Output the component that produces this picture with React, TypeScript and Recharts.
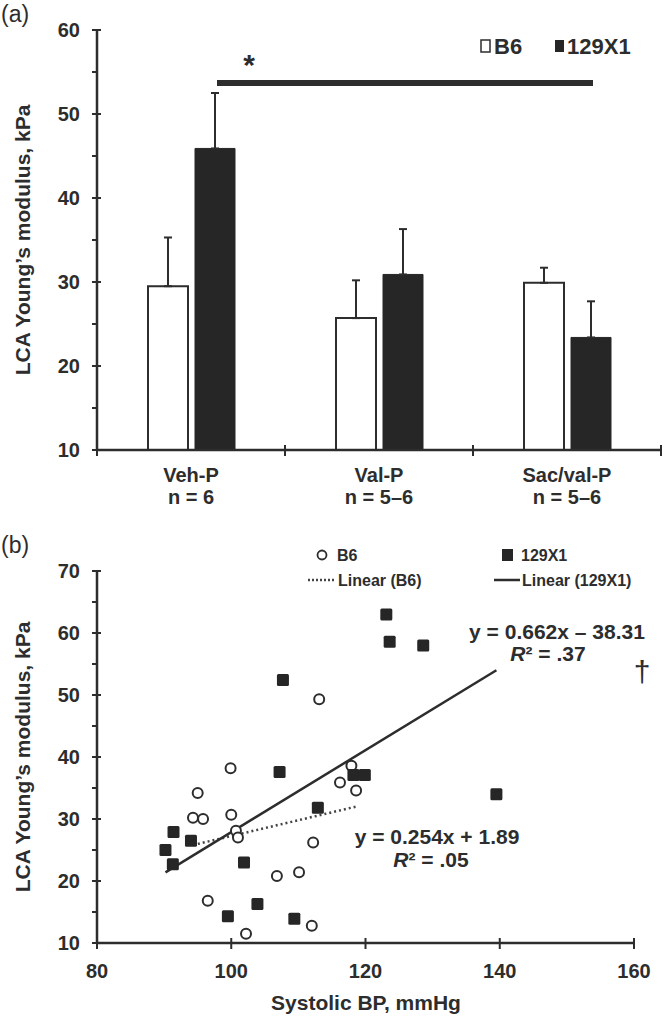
import React from "react";
import {
  BarChart,
  Bar,
  ErrorBar,
  ReferenceLine,
  ScatterChart,
  Scatter,
  XAxis,
  YAxis
} from "recharts";

const FONT = '"Liberation Sans", Arial, Helvetica, sans-serif';
const INK = "#2d2d2d";
const BAR_DARK = "#262626";

// (a) LCA modulus by treatment, mean + SD (upper whisker only)
const groups = ["Veh-P", "Val-P", "Sac/val-P"];
const groupN = ["n = 6", "n = 5\u20136", "n = 5\u20136"];
const b6Mean = [29.5, 25.7, 29.9];
const b6Sd = [5.8, 4.5, 1.8];
const x129Mean = [45.9, 30.9, 23.4];
const x129Sd = [6.6, 5.4, 4.3];
const sigLevel = 53.7;
const ticksA = [10, 15, 20, 25, 30, 35, 40, 45, 50, 55, 60];

// (b) modulus vs systolic BP
const b6Bp = [113.1, 99.9, 95.0, 94.3, 95.8, 100.0, 100.7, 101.0, 117.9, 116.2, 118.6, 112.2, 106.8, 110.1, 96.5, 102.2, 112.0];
const b6Mod = [49.3, 38.2, 34.2, 30.2, 30.0, 30.7, 28.1, 27.0, 38.6, 35.9, 34.6, 26.2, 20.8, 21.4, 16.8, 11.5, 12.8];
const x129Bp = [107.7, 107.2, 112.9, 91.4, 94.0, 90.2, 91.3, 101.9, 103.9, 99.5, 109.4, 118.2, 119.9, 123.1, 123.6, 128.6, 139.5];
const x129Mod = [52.4, 37.6, 31.8, 27.9, 26.5, 25.0, 22.7, 23.0, 16.3, 14.3, 13.9, 37.1, 37.1, 63.0, 58.6, 58.0, 34.0];
const fitB6Bp = [94.3, 118.6];
const fitB6Mod = [25.8, 32.0];
const fit129Bp = [90.2, 139.5];
const fit129Mod = [21.4, 54.0];
const ticksBx = [80, 100, 120, 140, 160];
const ticksBy = [10, 15, 20, 25, 30, 35, 40, 45, 50, 55, 60, 65, 70];

const barRows = groups.map((group, i) => ({
  group,
  b6: b6Mean[i],
  b6Err: [0, b6Sd[i]],
  x129: x129Mean[i],
  x129Err: [0, x129Sd[i]]
}));

const b6Rows = b6Bp.map((bp, i) => ({ bp, mod: b6Mod[i] }));
const x129Rows = x129Bp.map((bp, i) => ({ bp, mod: x129Mod[i] }));
const fitB6Rows = fitB6Bp.map((bp, i) => ({ bp, mod: fitB6Mod[i] }));
const fit129Rows = fit129Bp.map((bp, i) => ({ bp, mod: fit129Mod[i] }));

const textStyle = { fontFamily: FONT, fontWeight: 700, fill: INK } as const;

function ValueTick(props: any) {
  const { x, y, payload } = props;
  const major = payload.value % 10 === 0;
  return (
    <g>
      <line x1={x - 5} x2={major ? x + 4 : x} y1={y} y2={y} stroke={INK} strokeWidth={2} />
      {major && (
        <text x={x - 17} y={y + 7} textAnchor="end" fontSize={20} {...textStyle}>
          {payload.value}
        </text>
      )}
    </g>
  );
}

function GroupTick(props: any) {
  const { x, y, payload } = props;
  const half = typeof payload.offset === "number" && payload.offset > 0 ? payload.offset : 94;
  const i = groups.indexOf(payload.value);
  return (
    <g>
      <line x1={x - half} x2={x - half} y1={y - 5} y2={y + 6} stroke={INK} strokeWidth={2} />
      {i === groups.length - 1 && (
        <line x1={x + half} x2={x + half} y1={y - 5} y2={y + 6} stroke={INK} strokeWidth={2} />
      )}
      <text x={x} y={y + 32} textAnchor="middle" fontSize={20} {...textStyle}>
        {payload.value}
      </text>
      <text x={x} y={y + 54} textAnchor="middle" fontSize={20} {...textStyle}>
        {groupN[i]}
      </text>
    </g>
  );
}

function BpTick(props: any) {
  const { x, y, payload } = props;
  return (
    <g>
      <line x1={x} x2={x} y1={y - 5} y2={y + 6} stroke={INK} strokeWidth={2} />
      <text x={x} y={y + 35} textAnchor="middle" fontSize={20} {...textStyle}>
        {payload.value}
      </text>
    </g>
  );
}

// significance bar runs between the 129X1 bars, so shift off the band centre
function SigBar(props: any) {
  const shift = 26;
  return (
    <g>
      <line
        x1={props.x1 + shift}
        x2={props.x2 + shift}
        y1={props.y1}
        y2={props.y2}
        stroke={INK}
        strokeWidth={6}
      />
      <text x={props.x1 + shift + 32} y={props.y1 - 8} textAnchor="middle" fontSize={30} {...textStyle}>
        *
      </text>
    </g>
  );
}

const openCircle = (p: any) => (
  <circle cx={p.cx} cy={p.cy} r={5} fill="#fff" stroke={INK} strokeWidth={2} />
);
const filledSquare = (p: any) => (
  <rect x={p.cx - 6} y={p.cy - 6} width={12} height={12} rx={1.5} fill={BAR_DARK} />
);
const noDot = () => <g />;

export default function App() {
  return (
    <div style={{ position: "absolute", left: 0, top: 0, width: 666, height: 1019, background: "#fff" }}>
      <div style={{ position: "absolute", left: 0, top: 0 }}>
        <BarChart
          width={666}
          height={520}
          data={barRows}
          margin={{ top: 30, right: 5, bottom: 0, left: 0 }}
          barSize={40}
          barGap={7}
        >
          <XAxis
            dataKey="group"
            height={70}
            interval={0}
            tickLine={false}
            tickSize={0}
            tickMargin={0}
            axisLine={{ stroke: INK, strokeWidth: 2.5 }}
            tick={<GroupTick />}
          />
          <YAxis
            type="number"
            domain={[10, 60]}
            ticks={ticksA}
            interval={0}
            width={97}
            tickLine={false}
            tickSize={0}
            tickMargin={0}
            axisLine={{ stroke: INK, strokeWidth: 2.5 }}
            tick={<ValueTick />}
          />
          <Bar dataKey="b6" fill="#fff" stroke={INK} strokeWidth={2} isAnimationActive={false}>
            <ErrorBar dataKey="b6Err" direction="y" width={4} stroke={INK} strokeWidth={2} />
          </Bar>
          <Bar dataKey="x129" fill={BAR_DARK} stroke={BAR_DARK} strokeWidth={1} isAnimationActive={false}>
            <ErrorBar dataKey="x129Err" direction="y" width={4} stroke={INK} strokeWidth={2} />
          </Bar>
          <ReferenceLine
            segment={[
              { x: groups[0], y: sigLevel },
              { x: groups[2], y: sigLevel }
            ]}
            ifOverflow="visible"
            shape={SigBar}
          />
        </BarChart>
      </div>

      <div style={{ position: "absolute", left: 0, top: 520 }}>
        <ScatterChart width={666} height={499} margin={{ top: 51, right: 32, bottom: 0, left: 0 }}>
          <XAxis
            type="number"
            dataKey="bp"
            domain={[80, 160]}
            ticks={ticksBx}
            interval={0}
            height={76}
            tickLine={false}
            tickSize={0}
            tickMargin={0}
            axisLine={{ stroke: INK, strokeWidth: 2.5 }}
            tick={<BpTick />}
          />
          <YAxis
            type="number"
            dataKey="mod"
            domain={[10, 70]}
            ticks={ticksBy}
            interval={0}
            width={97}
            tickLine={false}
            tickSize={0}
            tickMargin={0}
            axisLine={{ stroke: INK, strokeWidth: 2.5 }}
            tick={<ValueTick />}
          />
          <Scatter
            data={fitB6Rows}
            line={{ stroke: "#444", strokeWidth: 2.5, strokeDasharray: "2 3" }}
            shape={noDot}
            isAnimationActive={false}
          />
          <Scatter
            data={fit129Rows}
            line={{ stroke: INK, strokeWidth: 2.5 }}
            shape={noDot}
            isAnimationActive={false}
          />
          <Scatter data={b6Rows} shape={openCircle} isAnimationActive={false} />
          <Scatter data={x129Rows} shape={filledSquare} isAnimationActive={false} />
        </ScatterChart>
      </div>

      <svg
        width={666}
        height={1019}
        style={{ position: "absolute", left: 0, top: 0, pointerEvents: "none" }}
      >
        <text x={1} y={22} fontSize={23} fontFamily={FONT} fill={INK}>(a)</text>
        <text x={1} y={553} fontSize={23} fontFamily={FONT} fill={INK}>(b)</text>

        <text transform="translate(22,240) rotate(-90)" textAnchor="middle" dominantBaseline="central" fontSize={21} {...textStyle}>
          LCA Young{"\u2019"}s modulus, kPa
        </text>
        <text transform="translate(22,757) rotate(-90)" textAnchor="middle" dominantBaseline="central" fontSize={21} {...textStyle}>
          LCA Young{"\u2019"}s modulus, kPa
        </text>
        <text x={366} y={1010} textAnchor="middle" fontSize={21} {...textStyle}>
          Systolic BP, mmHg
        </text>

        {/* legend (a) */}
        <rect x={481} y={40} width={9} height={12} fill="#fff" stroke={INK} strokeWidth={1.5} />
        <text x={494} y={54} fontSize={22} {...textStyle}>B6</text>
        <rect x={555} y={40} width={9} height={12} fill={BAR_DARK} />
        <text x={567} y={54} fontSize={22} {...textStyle}>129X1</text>

        {/* legend (b) */}
        <circle cx={322} cy={555} r={4.5} fill="#fff" stroke={INK} strokeWidth={1.8} />
        <text x={337} y={561} fontSize={16} {...textStyle}>B6</text>
        <rect x={502} y={549} width={11} height={12} fill={BAR_DARK} />
        <text x={521} y={561} fontSize={16} {...textStyle}>129X1</text>
        <line x1={308} x2={336} y1={580} y2={580} stroke="#444" strokeWidth={2.5} strokeDasharray="2 2" />
        <text x={338} y={586} fontSize={16} {...textStyle}>Linear (B6)</text>
        <line x1={494} x2={520} y1={580} y2={580} stroke={INK} strokeWidth={2.5} />
        <text x={522} y={586} fontSize={16} {...textStyle}>Linear (129X1)</text>

        {/* regression annotations */}
        <text x={557} y={639} textAnchor="middle" fontSize={21} {...textStyle}>
          y = 0.662x {"\u2013"} 38.31
        </text>
        <text x={548} y={661} textAnchor="middle" fontSize={21} {...textStyle}>
          <tspan fontStyle="italic">R</tspan>{"\u00b2"} = .37
        </text>
        <text x={437} y={844} textAnchor="middle" fontSize={21} {...textStyle}>
          y = 0.254x + 1.89
        </text>
        <text x={431} y={867} textAnchor="middle" fontSize={21} {...textStyle}>
          <tspan fontStyle="italic">R</tspan>{"\u00b2"} = .05
        </text>
        <text x={642} y={682} textAnchor="middle" fontSize={30} fontFamily={FONT} fill={INK}>
          {"\u2020"}
        </text>
      </svg>
    </div>
  );
}
